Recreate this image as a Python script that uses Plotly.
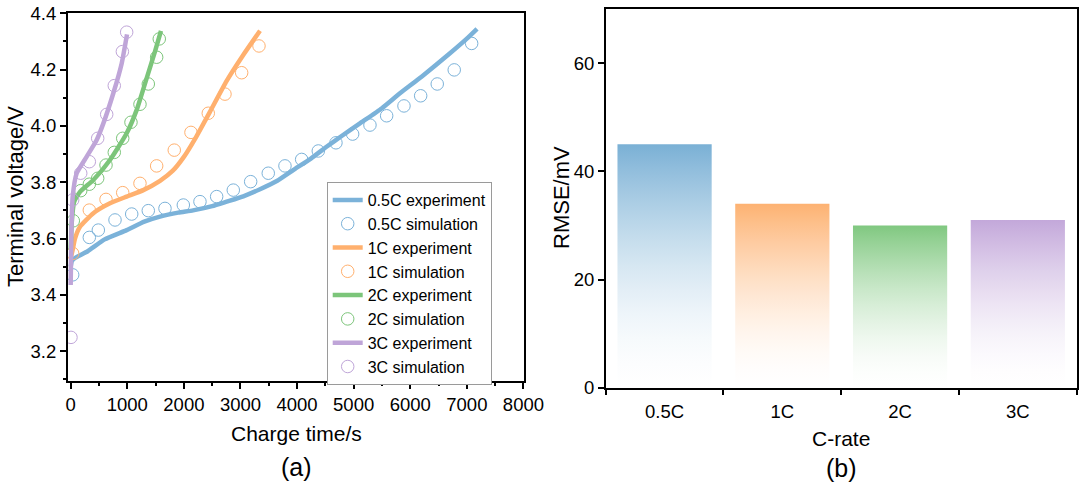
import plotly.graph_objects as go

# ---------------- data (a) ----------------
t_05_exp = [0, 20, 76, 300, 600, 989, 1300, 1578, 1900, 2163, 2500, 2756, 3050, 3345, 3650,
            3932, 4250, 4521, 4800, 5111, 5500, 5818, 6200, 6702, 7000, 7180]
v_05_exp = [3.50, 3.52, 3.531, 3.555, 3.597, 3.63, 3.66, 3.678, 3.692, 3.70, 3.715, 3.731, 3.75,
            3.775, 3.805, 3.843, 3.885, 3.926, 3.966, 4.009, 4.063, 4.116, 4.175, 4.258, 4.31, 4.345]
t_05_sim = [35, 329, 488, 783, 1078, 1371, 1666, 1990, 2284, 2579, 2873, 3180, 3491, 3786, 4081,
            4375, 4687, 4982, 5288, 5583, 5889, 6184, 6477, 6777, 7085]
v_05_sim = [3.471, 3.604, 3.630, 3.666, 3.687, 3.699, 3.707, 3.719, 3.731, 3.749, 3.772, 3.802,
            3.832, 3.858, 3.881, 3.911, 3.940, 3.971, 4.003, 4.036, 4.071, 4.107, 4.149, 4.199, 4.293]

t_1_exp = [0, 35, 76, 164, 400, 694, 989, 1283, 1578, 1800, 2000, 2200, 2460, 2756, 3049, 3345]
v_1_exp = [3.53, 3.56, 3.60, 3.642, 3.690, 3.725, 3.749, 3.772, 3.805, 3.840, 3.890, 3.955,
           4.050, 4.160, 4.252, 4.338]
t_1_sim = [35, 329, 624, 919, 1224, 1519, 1830, 2125, 2431, 2726, 3021, 3327]
v_1_sim = [3.547, 3.701, 3.739, 3.763, 3.796, 3.858, 3.914, 3.977, 4.045, 4.113, 4.189, 4.284]

t_2_exp = [0, 20, 60, 164, 400, 694, 989, 1166, 1343, 1490, 1595]
v_2_exp = [3.56, 3.66, 3.73, 3.766, 3.808, 3.879, 3.974, 4.057, 4.170, 4.265, 4.338]
t_2_sim = [46, 177, 329, 477, 624, 770, 919, 1065, 1224, 1371, 1519, 1565]
v_2_sim = [3.663, 3.770, 3.793, 3.814, 3.861, 3.906, 3.956, 4.013, 4.077, 4.149, 4.244, 4.309]

t_3_exp = [0, 10, 35, 106, 283, 459, 577, 753, 901, 995]
v_3_exp = [3.435, 3.60, 3.749, 3.832, 3.891, 3.950, 4.009, 4.116, 4.222, 4.325]
t_3_sim = [5, 35, 177, 329, 477, 636, 770, 913, 989]
v_3_sim = [3.249, 3.737, 3.832, 3.873, 3.956, 4.041, 4.143, 4.264, 4.333]

# ---------------- data (b) ----------------
c_rates = ["0.5C", "1C", "2C", "3C"]
rmse_mv = [45, 34, 30, 31]

# ---------------- styling ----------------
line_colors = ["#7BB2D9", "#FFB06E", "#7CC57A", "#BFA5D8"]
bar_colors = [(122, 176, 213), (253, 178, 114), (128, 200, 128), (195, 168, 218)]
FONT = "Arial, Liberation Sans, Helvetica, sans-serif"
W, H = 1080, 499
TICK = 18.5

fig = go.Figure()

series = [
    ("0.5C", t_05_exp, v_05_exp, t_05_sim, v_05_sim),
    ("1C", t_1_exp, v_1_exp, t_1_sim, v_1_sim),
    ("2C", t_2_exp, v_2_exp, t_2_sim, v_2_sim),
    ("3C", t_3_exp, v_3_exp, t_3_sim, v_3_sim),
]
for (name, te, ve, ts, vs), col in zip(series, line_colors):
    fig.add_trace(go.Scatter(x=te, y=ve, mode="lines", name=f"{name} experiment",
                             line=dict(color=col, width=4.5, shape="spline", smoothing=0.5),
                             xaxis="x", yaxis="y"))
    fig.add_trace(go.Scatter(x=ts, y=vs, mode="markers", name=f"{name} simulation",
                             marker=dict(symbol="circle-open", size=12.5, color=col,
                                         line=dict(width=1)),
                             xaxis="x", yaxis="y"))

# gradient bars drawn as filled polygons
half_w = 0.4
for i, (cat, val) in enumerate(zip(c_rates, rmse_mv)):
    r, g, b = bar_colors[i]
    scale = []
    for k in range(11):
        f = k / 10
        a = f ** 1.7
        scale.append([f, f"rgb({round(255 - (255 - r) * a)},{round(255 - (255 - g) * a)},{round(255 - (255 - b) * a)})"])
    fig.add_trace(go.Scatter(
        x=[i - half_w, i + half_w, i + half_w, i - half_w, i - half_w],
        y=[0, 0, val, val, 0],
        mode="lines", fill="toself", line=dict(width=0, color="rgba(0,0,0,0)"),
        fillgradient=dict(type="vertical", colorscale=scale),
        showlegend=False, name=cat, hoverinfo="skip", xaxis="x2", yaxis="y2"))

axis_common = dict(showline=True, linecolor="black", linewidth=1.5, mirror=True,
                   showgrid=False, zeroline=False, ticks="outside", tickcolor="black",
                   tickwidth=1.5, ticklen=6, automargin=False,
                   tickfont=dict(family=FONT, size=TICK, color="black"))

fig.update_layout(
    template="none",
    width=W, height=H,
    margin=dict(l=0, r=0, t=0, b=0, pad=0, autoexpand=False),
    paper_bgcolor="white", plot_bgcolor="white",
    font=dict(family=FONT, size=18, color="black"),
    xaxis=dict(domain=[67.7 / W, 524 / W], range=[-53, 8010], dtick=1000, tick0=0,
               minor=dict(dtick=500, tick0=0, ticks="outside", ticklen=3, tickcolor="black",
                          tickwidth=1.5),
               anchor="y", **axis_common),
    yaxis=dict(domain=[1 - 381 / H, 1 - 13.3 / H], range=[3.094, 4.4], dtick=0.2, tick0=3.2,
               tickformat=".1f",
               minor=dict(dtick=0.1, tick0=3.2, ticks="outside", ticklen=3, tickcolor="black",
                          tickwidth=1.5),
               anchor="x", **axis_common),
    xaxis2=dict(domain=[605.7 / W, 1076.7 / W], range=[-0.5, 3.5],
                tickmode="array", tickvals=list(range(len(c_rates))), ticktext=c_rates,
                anchor="y2", **{**axis_common, "tickcolor": "rgba(0,0,0,0)"},
                minor=dict(tickmode="array", tickvals=[-0.5, 0.5, 1.5, 2.5, 3.5],
                           ticks="outside", ticklen=6, tickcolor="black", tickwidth=1.5)),
    yaxis2=dict(domain=[1 - 387.7 / H, 1 - 9 / H], range=[0, 70], dtick=20, tick0=0,
                anchor="x2", **axis_common),
    legend=dict(x=326.7 / W, y=1 - 182 / H, xanchor="left", yanchor="top",
                bgcolor="white", bordercolor="#9a9a9a", borderwidth=1,
                font=dict(family=FONT, size=16, color="black"),
                tracegroupgap=0, itemwidth=30),
    showlegend=True,
)

ann = [
    dict(text="Terminal voltage/V", x=15 / W, y=1 - 197 / H, textangle=-90, size=22),
    dict(text="Charge time/s", x=296 / W, y=1 - 433 / H, textangle=0, size=21),
    dict(text="(a)", x=296 / W, y=1 - 467 / H, textangle=0, size=25),
    dict(text="RMSE/mV", x=562 / W, y=1 - 198 / H, textangle=-90, size=22),
    dict(text="C-rate", x=841 / W, y=1 - 438 / H, textangle=0, size=21),
    dict(text="(b)", x=841 / W, y=1 - 468 / H, textangle=0, size=25),
]
fig.update_layout(annotations=[
    dict(text=a["text"], x=a["x"], y=a["y"], xref="paper", yref="paper",
         xanchor="center", yanchor="middle", showarrow=False, textangle=a["textangle"],
         font=dict(family=FONT, size=a["size"], color="black"))
    for a in ann
])

fig.write_html(
    "out.html",
    config={"displayModeBar": False},
    post_script="document.body.style.margin='0px';document.body.style.padding='0px';"
                "document.body.style.overflow='hidden';",
)
